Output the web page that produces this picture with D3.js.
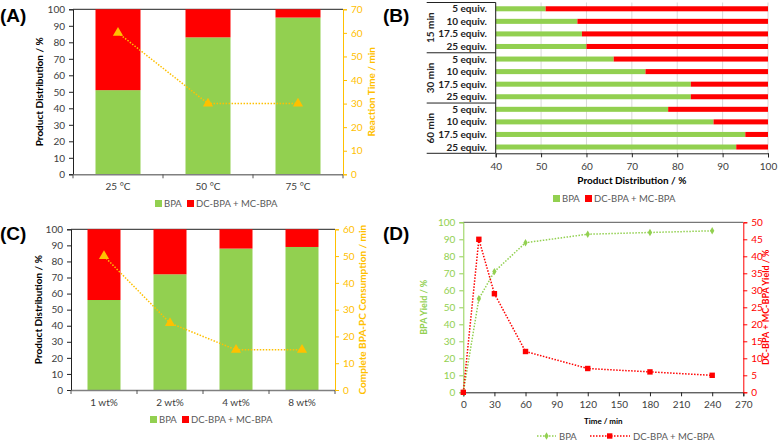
<!DOCTYPE html>
<html><head><meta charset="utf-8">
<script src="https://cdn.jsdelivr.net/npm/d3@7/dist/d3.min.js"></script>
<style>body{margin:0;background:#fff}svg{display:block;font-family:Lato,"Open Sans",sans-serif}</style>
</head><body><svg id="c" width="780" height="441"></svg>
<script>
// ---- Data ----
const tempCats = ["25 °C", "50 °C", "75 °C"];
const tempBPA = [51, 83, 95];
const tempTime = [60, 30, 30];

const equivGroups = ["15 min", "30 min", "60 min"];
const equivCats = ["5 equiv.", "10 equiv.", "17.5 equiv.", "25 equiv."];
const equivBPA = [51, 58, 59, 60, 66, 73, 83, 83, 78, 88, 95, 93];

const wtCats = ["1 wt%", "2 wt%", "4 wt%", "8 wt%"];
const wtBPA = [56, 72, 88, 89];
const wtTime = [50, 25, 15, 15];

const timePts = [0, 15, 30, 60, 120, 180, 240];
const timeBPA = [0, 55, 71, 88, 93, 94, 95];
const timeDC = [0, 45, 29, 12, 7, 6, 5];

const GREEN = "#92D050", RED = "#FF0000", YEL = "#FFC000", TXT = "#404040";
const svg = d3.select("#c");

function panelLabel(t, x, y) {
  svg.append("text").attr("x", x).attr("y", y).text(t)
    .attr("font-family", "Arial, 'Liberation Sans', sans-serif").attr("font-weight", "bold")
    .attr("font-size", 19).attr("fill", "#000");
}
function styleAxis(g, color, textColor) {
  g.selectAll("path.domain").attr("stroke", color);
  g.selectAll(".tick line").attr("stroke", color);
  g.selectAll(".tick text").attr("fill", textColor).attr("font-size", 10).attr("font-family", "Lato, 'Open Sans', sans-serif");
}
function legendBoxes(x, y) {
  const g = svg.append("g").attr("transform", `translate(${x},${y})`);
  g.append("rect").attr("x", 0).attr("y", -4).attr("width", 7).attr("height", 7).attr("fill", GREEN);
  g.append("text").attr("x", 9).attr("y", 3).text("BPA").attr("font-size", 9.5).attr("fill", "#595959");
  g.append("rect").attr("x", 32).attr("y", -4).attr("width", 7).attr("height", 7).attr("fill", RED);
  g.append("text").attr("x", 41).attr("y", 3).text("DC-BPA + MC-BPA").attr("font-size", 9.5).attr("fill", "#595959");
}
function vTitle(t, x, y, color, size) {
  svg.append("text").attr("transform", `translate(${x},${y}) rotate(-90)`).attr("text-anchor", "middle")
    .text(t).attr("font-weight", "bold").attr("font-size", size || 10).attr("fill", color);
}

// ---- Bar + line panel (A and C) ----
function barPanel(o) {
  const x = d3.scaleBand().domain(o.cats).range([o.x0, o.x1]).paddingInner(0.5).paddingOuter(0.25);
  const xb = d3.scaleBand().domain(o.cats).range([o.x0, o.x1]);
  const y = d3.scaleLinear().domain([0, 100]).range([o.y1, o.y0]);
  const y2 = d3.scaleLinear().domain([0, o.rmax]).range([o.y1, o.y0]);
  const g = svg.append("g");
  g.append("line").attr("x1", o.x0).attr("x2", o.x1).attr("y1", o.y0).attr("y2", o.y0).attr("stroke", "#222").attr("stroke-width", 1);
  o.cats.forEach((c, i) => {
    g.append("rect").attr("x", x(c)).attr("width", x.bandwidth()).attr("y", y(o.bpa[i])).attr("height", y(0) - y(o.bpa[i])).attr("fill", GREEN);
    g.append("rect").attr("x", x(c)).attr("width", x.bandwidth()).attr("y", y(100)).attr("height", y(o.bpa[i]) - y(100)).attr("fill", RED);
  });
  const ax = svg.append("g").attr("transform", `translate(${o.x0},0)`).call(d3.axisLeft(y).ticks(10).tickSize(4).tickPadding(4));
  styleAxis(ax, "#222", TXT);
  const bx = svg.append("g").attr("transform", `translate(0,${o.y1})`).call(d3.axisBottom(xb).tickSize(0).tickPadding(9));
  styleAxis(bx, "#808080", TXT);
  bx.select("path.domain").attr("stroke-width", 1.6);
  const bounds = o.cats.map(c => xb(c)).concat([o.x1]);
  bx.selectAll("line.bt").data(bounds).join("line").attr("class", "bt").attr("x1", d => d).attr("x2", d => d).attr("y1", 0).attr("y2", 4).attr("stroke", "#555");
  const ry = svg.append("g").attr("transform", `translate(${o.x1},0)`).call(d3.axisRight(y2).ticks(o.rmax / 10).tickSize(4).tickPadding(4));
  styleAxis(ry, YEL, YEL);
  const pts = o.cats.map((c, i) => [x(c) + x.bandwidth() / 2, y2(o.time[i])]);
  svg.append("path").attr("d", d3.line()(pts)).attr("fill", "none").attr("stroke", YEL).attr("stroke-width", 1.5).attr("stroke-dasharray", "1.5,1.5");
  svg.selectAll(null).data(pts).join("path").attr("transform", d => `translate(${d[0]},${d[1]})`)
    .attr("d", d3.symbol(d3.symbolTriangle, 45)()).attr("fill", YEL);
  vTitle("Product Distribution / %", o.lt, (o.y0 + o.y1) / 2, "#000");
  vTitle(o.rtitle, o.rt, (o.y0 + o.y1) / 2, YEL);
}

panelLabel("(A)", 0, 22);
barPanel({cats: tempCats, bpa: tempBPA, time: tempTime, x0: 73, x1: 343, y0: 9.3, y1: 174.3, rmax: 70,
  lt: 43, rt: 375, rtitle: "Reaction Time / min"});
legendBoxes(155, 204);

panelLabel("(C)", 0, 240);
barPanel({cats: wtCats, bpa: wtBPA, time: wtTime, x0: 71, x1: 335, y0: 229.3, y1: 390, rmax: 60,
  lt: 42, rt: 366, rtitle: "Complete BPA-PC Consumption / min"});
legendBoxes(150, 420);

// ---- Panel B ----
(function () {
  const x0 = 495.7, x1 = 768, y0 = 2.5, y1 = 153.3;
  const rows = [];
  equivGroups.forEach(gp => equivCats.forEach(c => rows.push(gp + "|" + c)));
  const x = d3.scaleLinear().domain([40, 100]).range([x0, x1]);
  const y = d3.scaleBand().domain(rows).range([y0, y1]).paddingInner(0.6).paddingOuter(0.3);
  const yb = d3.scaleBand().domain(rows).range([y0, y1]);
  const g = svg.append("g");
  g.selectAll("line.grid").data(x.ticks(6)).join("line").attr("x1", d => x(d)).attr("x2", d => x(d)).attr("y1", y0).attr("y2", y1).attr("stroke", "#d9d9d9");
  rows.forEach((r, i) => {
    g.append("rect").attr("x", x(40)).attr("y", y(r)).attr("height", y.bandwidth()).attr("width", x(equivBPA[i]) - x(40)).attr("fill", GREEN);
    g.append("rect").attr("x", x(equivBPA[i])).attr("y", y(r)).attr("height", y.bandwidth()).attr("width", x(100) - x(equivBPA[i])).attr("fill", RED);
  });
  const bx = svg.append("g").attr("transform", `translate(0,${y1})`).call(d3.axisBottom(x).ticks(6).tickSize(4).tickPadding(6));
  styleAxis(bx, "#222", TXT);
  svg.append("line").attr("x1", x0).attr("x2", x0).attr("y1", y0).attr("y2", y1).attr("stroke", "#222");
  rows.forEach((r, i) => {
    svg.append("text").attr("x", 487).attr("y", yb(r) + yb.bandwidth() / 2 + 3.5).attr("text-anchor", "end")
      .text(equivCats[i % 4]).attr("font-weight", "bold").attr("font-size", 10).attr("fill", "#222");
  });
  equivGroups.forEach((gp, gi) => {
    const top = yb(gp + "|" + equivCats[0]);
    svg.append("line").attr("x1", 426.7).attr("x2", x0).attr("y1", top).attr("y2", top).attr("stroke", "#222");
    vTitle(gp, 434, top + yb.bandwidth() * 2, "#222");
  });
  svg.append("line").attr("x1", 426.7).attr("x2", x0).attr("y1", y1).attr("y2", y1).attr("stroke", "#222");
  svg.append("text").attr("x", (x0 + x1) / 2).attr("y", 184).attr("text-anchor", "middle").text("Product Distribution / %")
    .attr("font-weight", "bold").attr("font-size", 10).attr("fill", "#000");
  legendBoxes(553, 199);
})();
panelLabel("(B)", 383, 22);

// ---- Panel D ----
(function () {
  const x0 = 463.3, x1 = 743.3, y0 = 222.3, y1 = 392.3;
  const x = d3.scaleLinear().domain([0, 270]).range([x0, x1]);
  const y = d3.scaleLinear().domain([0, 100]).range([y1, y0]);
  const y2 = d3.scaleLinear().domain([0, 50]).range([y1, y0]);
  svg.append("line").attr("x1", x0).attr("x2", x1).attr("y1", y0).attr("y2", y0).attr("stroke", "#555");
  const bx = svg.append("g").attr("transform", `translate(0,${y1})`).call(d3.axisBottom(x).tickValues(d3.range(0, 271, 30)).tickSize(4).tickPadding(5));
  styleAxis(bx, "#222", TXT);
  const ly = svg.append("g").attr("transform", `translate(${x0},0)`).call(d3.axisLeft(y).ticks(10).tickSize(4).tickPadding(4));
  styleAxis(ly, GREEN, GREEN);
  const ry = svg.append("g").attr("transform", `translate(${x1},0)`).call(d3.axisRight(y2).ticks(10).tickSize(4).tickPadding(4));
  styleAxis(ry, RED, RED);
  const gp = timePts.map((t, i) => [x(t), y(timeBPA[i])]);
  const rp = timePts.map((t, i) => [x(t), y2(timeDC[i])]);
  svg.append("path").attr("d", d3.line()(gp)).attr("fill", "none").attr("stroke", GREEN).attr("stroke-width", 1.5).attr("stroke-dasharray", "1.5,1.5");
  svg.append("path").attr("d", d3.line()(rp)).attr("fill", "none").attr("stroke", RED).attr("stroke-width", 1.5).attr("stroke-dasharray", "1.5,1.5");
  svg.selectAll(null).data(gp).join("path").attr("transform", d => `translate(${d[0]},${d[1]})`)
    .attr("d", d3.symbol(d3.symbolDiamond, 16)()).attr("fill", GREEN);
  svg.selectAll(null).data(rp).join("rect").attr("x", d => d[0] - 2.7).attr("y", d => d[1] - 2.7).attr("width", 5.4).attr("height", 5.4).attr("fill", RED);
  vTitle("BPA Yield / %", 427, (y0 + y1) / 2, GREEN, 9);
  vTitle("DC-BPA + MC-BPA Yield / %", 769, (y0 + y1) / 2, RED, 9);
  svg.append("text").attr("x", (x0 + x1) / 2).attr("y", 424).attr("text-anchor", "middle").text("Time / min")
    .attr("font-weight", "bold").attr("font-size", 8).attr("fill", "#000");
  const lg = svg.append("g").attr("transform", "translate(0,436)");
  lg.append("line").attr("x1", 537).attr("x2", 556).attr("y1", 0).attr("y2", 0).attr("stroke", GREEN).attr("stroke-width", 1.5).attr("stroke-dasharray", "1.5,1.5");
  lg.append("path").attr("transform", "translate(546.5,0)").attr("d", d3.symbol(d3.symbolDiamond, 16)()).attr("fill", GREEN);
  lg.append("text").attr("x", 559).attr("y", 3.5).text("BPA").attr("font-size", 9.5).attr("fill", "#595959");
  lg.append("line").attr("x1", 590).attr("x2", 630).attr("y1", 0).attr("y2", 0).attr("stroke", RED).attr("stroke-width", 1.5).attr("stroke-dasharray", "1.5,1.5");
  lg.append("rect").attr("x", 607).attr("y", -2.7).attr("width", 5.4).attr("height", 5.4).attr("fill", RED);
  lg.append("text").attr("x", 633).attr("y", 3.5).text("DC-BPA + MC-BPA").attr("font-size", 9.5).attr("fill", "#595959");
})();
panelLabel("(D)", 383, 240);
</script></body></html>
